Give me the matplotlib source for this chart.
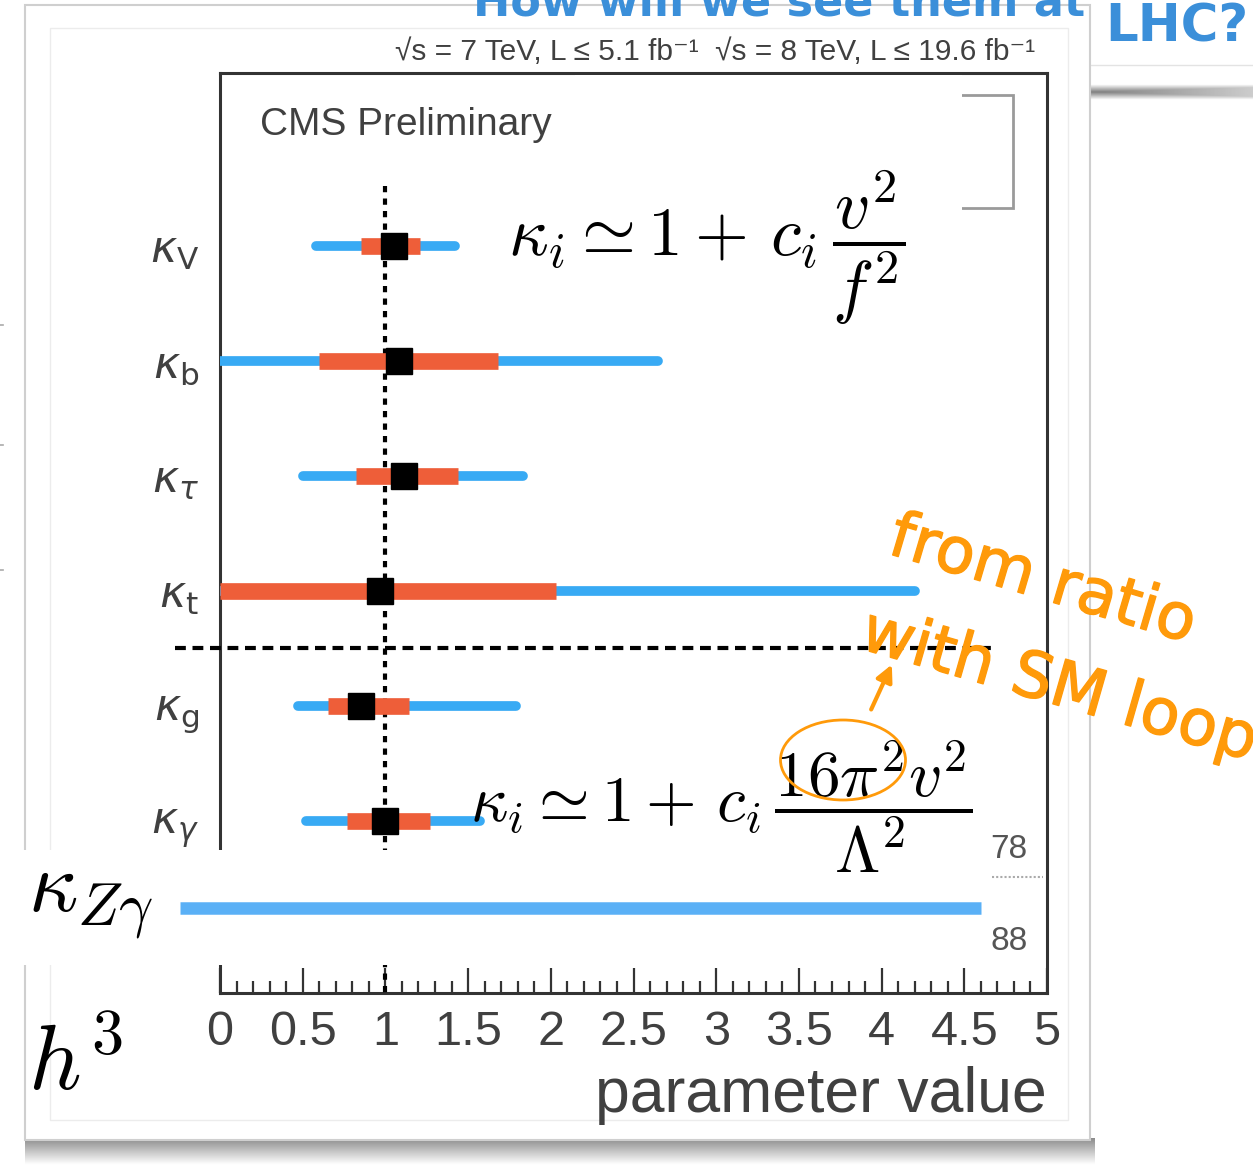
import numpy as np
import matplotlib
matplotlib.use('Agg')
import matplotlib.pyplot as plt
import matplotlib.patheffects as pe
from matplotlib.patches import Rectangle, Ellipse, FancyArrowPatch
from matplotlib.transforms import Affine2D

# figure size in pixels
W, H = 1253, 1168

# coupling modifiers (CMS 68% / 95% intervals)
labels = [r'$\kappa_{\rm V}$', r'$\kappa_{\rm b}$', r'$\kappa_{\tau}$',
          r'$\kappa_{\rm t}$', r'$\kappa_{\rm g}$', r'$\kappa_{\gamma}$']
best = [1.05, 1.08, 1.11, 0.97, 0.85, 1.00]
lo68 = [0.85, 0.60, 0.82, 0.00, 0.65, 0.77]
hi68 = [1.21, 1.68, 1.44, 2.03, 1.14, 1.27]
lo95 = [0.58, 0.00, 0.50, 0.00, 0.47, 0.52]
hi95 = [1.42, 2.65, 1.83, 4.20, 1.79, 1.57]

# the pasted kappa_Zgamma row (slide overlay)
zg_row = 5.76
zg_lo, zg_hi = -0.24, 4.60

xticks = [0, 0.5, 1, 1.5, 2, 2.5, 3, 3.5, 4, 4.5, 5]
xticklabels = ['0', '0.5', '1', '1.5', '2', '2.5', '3', '3.5', '4', '4.5', '5']

blue = '#38AAF4'
red = '#EE5E39'
orange = '#FF9A0A'
gray_txt = '#404040'

fig = plt.figure(figsize=(W / 100, H / 100), dpi=100)
# pixel transform, origin top-left
px = Affine2D().scale(1.0 / W, -1.0 / H).translate(0, 1) + fig.transFigure

###############################################################################
# background slide: card, shadows, title
###############################################################################
bg = fig.add_axes([0, 0, 1, 1])
bg.set_xlim(0, W)
bg.set_ylim(H, 0)
bg.axis('off')

# title text of the slide (mostly cut off at the top)
bg.text(1085, 15, 'How will we see them at', color='#3B8FD9', fontsize=32,
        fontweight='bold', ha='right', va='baseline', zorder=4)
bg.text(1105, 42, 'LHC?', color='#3B8FD9', fontsize=37,
        fontweight='bold', ha='left', va='baseline', zorder=4)

# top-right shadow of another slide box
gx = np.linspace(0.5, 0.8, 200)[None, :]
gy = np.abs(np.linspace(-1, 1, 20))[:, None]
grad = np.maximum(gx, 0.5 + 0.5 * gy)
bg.imshow(grad, cmap='gray', vmin=0, vmax=1, extent=(1090, 1253, 100, 84),
          aspect='auto', zorder=1)
bg.plot([1090, 1253], [65, 65], color='#e3e3e3', lw=1, zorder=1)

# card bottom shadow
sh = np.linspace(0.55, 1.0, 30)[:, None] * np.ones((1, 10))
bg.imshow(sh, cmap='gray', vmin=0, vmax=1, extent=(25, 1095, 1165, 1138),
          aspect='auto', zorder=1)
# card
bg.add_patch(Rectangle((25, 5), 1065, 1135, facecolor='white',
                       edgecolor='#cfcfcf', lw=1.5, zorder=3))
bg.add_patch(Rectangle((50, 28), 1018, 1092, facecolor='none',
                       edgecolor='#ececec', lw=1, zorder=3))
# little marks at the slide's left edge
for yy in [325, 445, 570]:
    bg.plot([0, 3], [yy, yy], color='#aaaaaa', lw=1.2, zorder=1)

###############################################################################
# main CMS plot
###############################################################################
ax = fig.add_axes([220 / W, 1 - 993 / H, (1047 - 220) / W, (993 - 73) / H])
ax.set_xlim(0, 5)
ax.set_ylim(6.5, -1.5)
rows = np.arange(len(labels))

ax.hlines(rows, lo95, hi95, color=blue, lw=7, capstyle='round', zorder=4)
ax.hlines(rows, lo68, hi68, color=red, lw=12, capstyle='butt', zorder=5)
ax.plot(best, rows, 's', color='black', markersize=19, zorder=6)

# SM reference and separator
ax.vlines(1, -0.52, 6.5, color='black', lw=3, linestyles=(0, (1.5, 1.5)),
          zorder=3)
ax.hlines(3.5, -0.27, 4.69, color='black', lw=3, linestyles=(0, (2.6, 1.6)),
          clip_on=False, zorder=3)

for s in ax.spines.values():
    s.set_color('#333333')
    s.set_linewidth(2.2)

ax.set_xticks(xticks)
ax.set_xticklabels(xticklabels, fontsize=35, color=gray_txt,
                   family='Liberation Sans')
ax.set_xticks(np.arange(0, 5.01, 0.1), minor=True)
ax.tick_params(axis='x', which='major', direction='in', length=18, width=1.6,
               color='#333333', pad=12, top=False)
ax.tick_params(axis='x', which='minor', direction='in', length=9, width=1.6,
               color='#333333', top=False)
ax.set_yticks(rows)
ax.set_yticklabels(labels, fontsize=32, color=gray_txt)
ax.tick_params(axis='y', length=0, pad=15)
ax.set_xlabel('parameter value', fontsize=45, color=gray_txt,
              family='Liberation Sans', loc='right', labelpad=8)

ax.text(260, 135, 'CMS Preliminary', transform=px, fontsize=28,
        color=gray_txt, family='Liberation Sans', ha='left', va='baseline')
ax.text(395, 60, '√s = 7 TeV, L ≤ 5.1 fb⁻¹  √s = 8 TeV, L ≤ 19.6 fb⁻¹',
        transform=px, fontsize=21.5, color=gray_txt,
        family=['Liberation Sans Narrow', 'Liberation Sans', 'DejaVu Sans'],
        ha='left', va='baseline', clip_on=False)

# legend remnant and the white box pasted over it
ax.add_patch(Rectangle((900, 95), 113, 113, transform=px, facecolor='none',
                       edgecolor='#9a9a9a', lw=2, clip_on=False, zorder=7))
ax.add_patch(Rectangle((575, 75), 387, 140, transform=px, facecolor='white',
                       edgecolor='none', clip_on=False, zorder=8))

# right-hand leftovers
ax.text(990, 858, '78', transform=px, fontsize=24, color='#555555',
        family='Liberation Sans', ha='left', va='baseline', clip_on=False)
ax.text(990, 950, '88', transform=px, fontsize=24, color='#555555',
        family='Liberation Sans', ha='left', va='baseline', clip_on=False)
ax.plot([992, 1043], [877, 877], transform=px, color='#aaaaaa', lw=1.5,
        ls=(0, (1, 1)), clip_on=False, zorder=7)

# white strip pasted over the bottom of the plot, with the Zgamma row
ax.add_patch(Rectangle((0, 850), 990, 115, transform=px, facecolor='white',
                       edgecolor='none', clip_on=False, zorder=8))
ax.hlines(zg_row, zg_lo, zg_hi, color='#5AB0F6', lw=9, capstyle='butt',
          clip_on=False, zorder=9)
ax.text(28, 913, r'$\kappa_{Z\gamma}$', transform=px, fontsize=62,
        math_fontfamily='cm', ha='left', va='baseline', clip_on=False,
        zorder=10)

# formulas
ax.text(508, 256, r'$\kappa_i \simeq 1 + \,c_i\,\dfrac{v^2}{f^2}$',
        transform=px, fontsize=50, math_fontfamily='cm', ha='left',
        va='baseline', clip_on=False, zorder=10)
ax.text(470, 822,
        r'$\kappa_i \simeq 1 + \,c_i\,\dfrac{16\pi^2 v^2}{\Lambda^2}$',
        transform=px, fontsize=47, math_fontfamily='cm', ha='left',
        va='baseline', clip_on=False, zorder=10)
ax.text(28, 1090, r'$h^3$', transform=px, fontsize=66, math_fontfamily='cm',
        ha='left', va='baseline', clip_on=False, zorder=10)

# orange hand annotations
thick = [pe.withStroke(linewidth=1.0, foreground=orange)]
ax.add_patch(Ellipse((843, 760), 125, 80, transform=px, facecolor='none',
                     edgecolor=orange, lw=2, clip_on=False, zorder=11))
ax.add_patch(FancyArrowPatch((870, 712), (893, 662), transform=px,
                             arrowstyle='-|>', mutation_scale=25,
                             color=orange, lw=3, clip_on=False, zorder=11))
ax.text(886, 553, 'from ratio', transform=px, fontsize=46, color=orange,
        rotation=-16.5, rotation_mode='anchor', ha='left', va='baseline',
        clip_on=False, zorder=11, path_effects=thick)
ax.text(858, 648, 'with SM loop', transform=px, fontsize=46, color=orange,
        rotation=-16, rotation_mode='anchor', ha='left', va='baseline',
        clip_on=False, zorder=11, path_effects=thick)

fig.savefig('out.png', dpi=100)
